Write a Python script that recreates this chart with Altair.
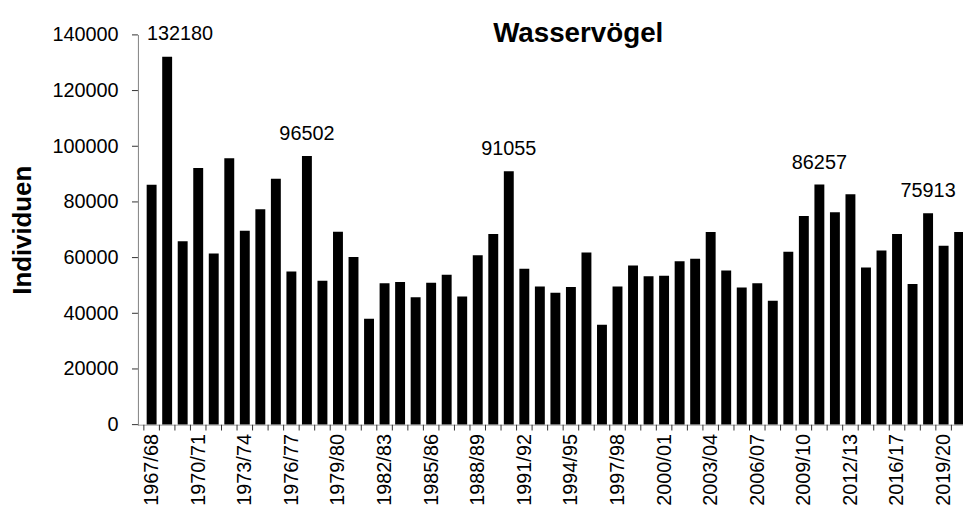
import altair as alt
import pandas as pd

seasons = [
    "1967/68", "1968/69", "1969/70", "1970/71", "1971/72", "1972/73", "1973/74",
    "1974/75", "1975/76", "1976/77", "1977/78", "1978/79", "1979/80", "1980/81",
    "1981/82", "1982/83", "1983/84", "1984/85", "1985/86", "1986/87", "1987/88",
    "1988/89", "1989/90", "1990/91", "1991/92", "1992/93", "1993/94", "1994/95",
    "1995/96", "1996/97", "1997/98", "1998/99", "1999/00", "2000/01", "2001/02",
    "2002/03", "2003/04", "2004/05", "2005/06", "2006/07", "2007/08", "2008/09",
    "2009/10", "2010/11", "2011/12", "2012/13", "2014/15", "2015/16", "2016/17",
    "2017/18", "2018/19", "2019/20", "2020/21",
]

individuen = [
    86200, 132180, 65900, 92200, 61500, 95700, 69650,
    77340, 88300, 55000, 96502, 51700, 69300, 60200,
    38030, 50800, 51240, 45800, 51000, 53830, 46040,
    60800, 68500, 91055, 55950, 49580, 47340, 49470,
    61860, 35910, 49580, 57150, 53260, 53470, 58680,
    59630, 69190, 55380, 49220, 50770, 44520, 62110,
    74960, 86257, 76280, 82750, 56450, 62580, 68490,
    50540, 75913, 64240, 69190,
]

labelled_seasons = ["1968/69", "1977/78", "1990/91", "2010/11", "2018/19"]
shown_tick_labels = ["1967/68", "1970/71", "1973/74", "1976/77", "1979/80",
                     "1982/83", "1985/86", "1988/89", "1991/92", "1994/95",
                     "1997/98", "2000/01", "2003/04", "2006/07", "2009/10",
                     "2012/13", "2016/17", "2019/20"]
y_ticks = [0, 20000, 40000, 60000, 80000, 100000, 120000, 140000]

df = pd.DataFrame({"season": seasons, "v": individuen, "i": list(range(len(seasons)))})

FONT = "Liberation Sans"
W, H = 831, 393
n = len(seasons)
step = 15.85
x_max = -0.5 + W / step
TICK = 6
AXIS_GRAY = "#808080"
TICK_COLOR = "#303030"

xscale = alt.Scale(domain=[-0.5, x_max], nice=False, zero=False)
yscale = alt.Scale(domain=[0, 140000], nice=False)

label_idx = [seasons.index(s) for s in shown_tick_labels]
arr = "[" + ",".join("'" + s + "'" for s in seasons) + "]"

axis_labels = alt.Axis(
    orient="bottom", values=label_idx, labelExpr=arr + "[datum.value]",
    ticks=False, tickSize=0, domain=False, labelAngle=270, labelFontSize=20,
    labelFont=FONT, labelColor="black", labelPadding=9, labelOverlap=False,
    grid=False, title=None,
)
yaxis = alt.Axis(
    values=y_ticks, format="d", labelFontSize=20, labelFont=FONT, labelColor="black",
    ticks=False, tickSize=0, domain=False, labelPadding=21,
    grid=False, title="Individuen", titleFontSize=26, titleFont=FONT,
    titleFontWeight="bold", titleColor="black", titlePadding=17,
)

base = alt.Chart(df)

bars = base.mark_bar(size=10, color="black", clip=True).encode(
    x=alt.X("i:Q", scale=xscale, axis=axis_labels),
    y=alt.Y("v:Q", scale=yscale, axis=yaxis),
)

# axis lines and tick marks (filled marks)
one = pd.DataFrame({"k": [0]})
y_domain = alt.Chart(one).mark_rect(color=AXIS_GRAY).encode(
    x=alt.value(-1), x2=alt.value(0), y=alt.value(0), y2=alt.value(H + 1),
)
x_domain = alt.Chart(one).mark_rect(color=AXIS_GRAY).encode(
    x=alt.value(-1), x2=alt.value(W), y=alt.value(H), y2=alt.value(H + 1),
)
y_tick_marks = alt.Chart(pd.DataFrame({"yt": y_ticks})).mark_tick(
    orient="horizontal", size=TICK, thickness=1, color=TICK_COLOR, opacity=1,
).encode(
    y=alt.Y("yt:Q", scale=yscale, axis=yaxis),
    x=alt.value(-1 - TICK / 2),
)
x_tick_marks = alt.Chart(pd.DataFrame({"xt": [k - 0.5 for k in range(n)]})).transform_filter(
    alt.datum.xt <= x_max
).mark_tick(
    orient="vertical", size=TICK, thickness=1, color=TICK_COLOR, opacity=1,
).encode(
    x=alt.X("xt:Q", scale=xscale, axis=axis_labels),
    y=alt.value(H + TICK / 2),
)

lab_filter = alt.FieldOneOfPredicate(field="season", oneOf=labelled_seasons)

value_labels = base.transform_filter(lab_filter).transform_filter(
    alt.datum.season != labelled_seasons[0]
).mark_text(fontSize=20, font=FONT, dy=-16, baseline="alphabetic", color="black").encode(
    x=alt.X("i:Q", scale=xscale, axis=axis_labels),
    y=alt.Y("v:Q", scale=yscale, axis=yaxis),
    text=alt.Text("v:Q", format="d"),
)

first_label = base.transform_filter(alt.datum.season == labelled_seasons[0]).mark_text(
    fontSize=20, font=FONT, dy=-17, dx=13, baseline="alphabetic", color="black"
).encode(
    x=alt.X("i:Q", scale=xscale, axis=axis_labels),
    y=alt.Y("v:Q", scale=yscale, axis=yaxis),
    text=alt.Text("v:Q", format="d"),
)

title = alt.Chart(pd.DataFrame({"t": ["Wasservögel"]})).mark_text(
    fontSize=28, font=FONT, fontWeight="bold", baseline="alphabetic", align="center",
    color="black",
).encode(x=alt.value(443), y=alt.value(7), text="t:N")

chart = alt.layer(
    bars, x_domain, y_domain, y_tick_marks, x_tick_marks, value_labels, first_label, title
).properties(
    width=W, height=H,
    autosize=alt.AutoSizeParams(type="none"),
    padding={"left": 132, "top": 25, "right": 0, "bottom": 88},
).configure_view(strokeWidth=0)

chart.save("out.html", embed_options={"renderer": "svg", "actions": False})
